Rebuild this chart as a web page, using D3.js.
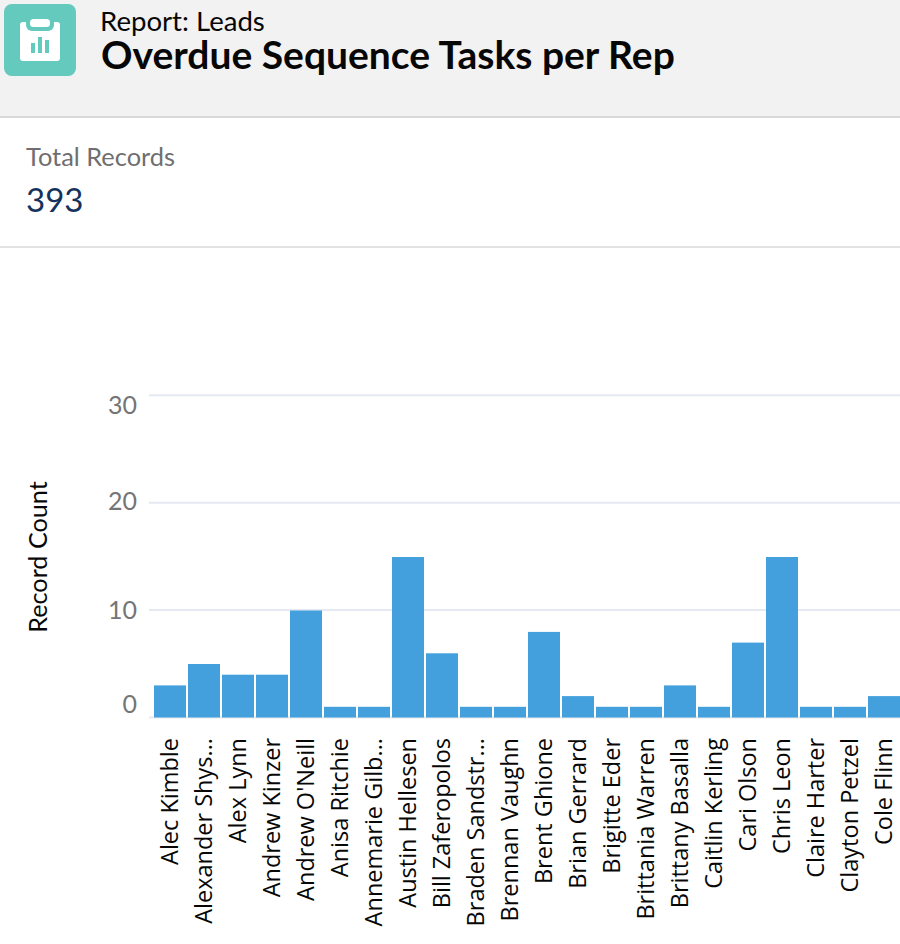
<!DOCTYPE html>
<html>
<head>
<meta charset="utf-8">
<script src="https://d3js.org/d3.v7.min.js"></script>
<style>
html, body { margin: 0; padding: 0; background: #fff; }
svg { display: block; }
</style>
</head>
<body>
<svg width="900" height="944"></svg>
<script>
var reps = ["Alec Kimble", "Alexander Shys...", "Alex Lynn", "Andrew Kinzer", "Andrew O'Neill", "Anisa Ritchie",
    "Annemarie Gilb...", "Austin Hellesen", "Bill Zaferopolos", "Braden Sandstr...", "Brennan Vaughn", "Brent Ghione",
    "Brian Gerrard", "Brigitte Eder", "Brittania Warren", "Brittany Basalla", "Caitlin Kerling", "Cari Olson",
    "Chris Leon", "Claire Harter", "Clayton Petzel", "Cole Flinn"];
var counts = [3, 5, 4, 4, 10, 1, 1, 15, 6, 1, 1, 8, 2, 1, 1, 3, 1, 7, 15, 1, 1, 2];
var yTicks = [0, 10, 20, 30];

var svg = d3.select('svg');
var sans = "Lato, 'Open Sans', sans-serif";

/* header */
svg.append("rect").attr("width", 900).attr("height", 117).attr("fill", "#f2f2f2");
svg.append("rect").attr("y", 116).attr("width", 900).attr("height", 2).attr("fill", "#d9d9d9");
svg.append("rect").attr("y", 246).attr("width", 900).attr("height", 2).attr("fill", "#e2e2e2");

/* icon */
var icon = svg.append("g");
icon.append("rect").attr("x", 4).attr("y", 4).attr("width", 72).attr("height", 72).attr("rx", 8).attr("fill", "#63cabd");
icon.append("rect").attr("x", 20).attr("y", 22).attr("width", 40).attr("height", 39).attr("rx", 3).attr("fill", "#fff");
icon.append("rect").attr("x", 26).attr("y", 16).attr("width", 28).attr("height", 15).attr("rx", 6).attr("fill", "#63cabd");
icon.append("rect").attr("x", 30).attr("y", 19).attr("width", 20).attr("height", 8).attr("rx", 3.5).attr("fill", "#fff");
icon.append("rect").attr("x", 31).attr("y", 43).attr("width", 4).attr("height", 10).attr("fill", "#63cabd");
icon.append("rect").attr("x", 38).attr("y", 37).attr("width", 4).attr("height", 16).attr("fill", "#63cabd");
icon.append("rect").attr("x", 45).attr("y", 40).attr("width", 4).attr("height", 13).attr("fill", "#63cabd");

/* titles */
svg.append("text").attr("x", 100).attr("y", 31).attr("font-family", sans).attr("font-size", 27.6)
    .attr("fill", "#080707").text("Report: Leads");
svg.append("text").attr("x", 101).attr("y", 69).attr("font-family", sans).attr("font-size", 39)
    .attr("font-weight", 700).attr("fill", "#080707").text("Overdue Sequence Tasks per Rep");
svg.append("text").attr("x", 26).attr("y", 166).attr("font-family", sans).attr("font-size", 25.4)
    .attr("fill", "#6f6e70").text("Total Records");
svg.append("text").attr("x", 26).attr("y", 212).attr("font-family", sans).attr("font-size", 33)
    .attr("fill", "#16325c").text("393");

/* scales */
var x = d3.scaleBand().domain(reps).range([153, 901]).paddingInner(2 / 34).paddingOuter(1 / 34);
var y = d3.scaleLinear().domain([0, 30]).range([717, 394.7]);
// bars run a touch shorter than the grid spacing in the original
var yBar = d3.scaleLinear().domain([0, 30]).range([717.5, 396.5]);

/* grid + y axis */
var yAxis = d3.axisLeft(y).tickValues(yTicks).tickSize(-751).tickPadding(12);
var yG = svg.append("g").attr("transform", "translate(149,0)").call(yAxis);
yG.select(".domain").remove();
yG.selectAll(".tick line").attr("stroke", "#e5e9f1").attr("stroke-width", 2);
// the labels do not sit exactly on their gridlines in the original
var labelNudge = { 0: -13, 10: 0, 20: -1, 30: 10 };
yG.selectAll(".tick text")
    .attr("font-family", sans).attr("font-size", 25).attr("fill", "#757575")
    .attr("dy", "0.35em")
    .attr("y", function(d){return labelNudge[d]});

svg.append("text")
    .attr("transform", "translate(47,557) rotate(-90)")
    .attr("text-anchor", "middle")
    .attr("font-family", sans).attr("font-size", 25.2).attr("fill", "#080707")
    .text("Record Count");

/* bars */
svg.selectAll("rect.bar")
    .data(counts)
    .enter()
    .append("rect")
    .attr("class", "bar")
    .attr("x", function(d, i){return x(reps[i])})
    .attr("y", function(d){return yBar(d)})
    .attr("width", x.bandwidth())
    .attr("height", function(d){return yBar(0) - yBar(d)})
    .attr("fill", "#44a0dc");

/* x axis labels */
var xAxis = d3.axisBottom(x).tickSize(0).tickPadding(0);
var xG = svg.append("g").attr("transform", "translate(0,717)").call(xAxis);
xG.select(".domain").remove();
xG.selectAll(".tick text")
    .attr("font-family", "'Open Sans', sans-serif").attr("font-size", 23.5).attr("fill", "#080707")
    .attr("text-anchor", "end")
    .attr("transform", "rotate(-90)")
    .attr("x", -21)
    .attr("y", 0)
    .attr("dy", "0.35em");
</script>
</body>
</html>
